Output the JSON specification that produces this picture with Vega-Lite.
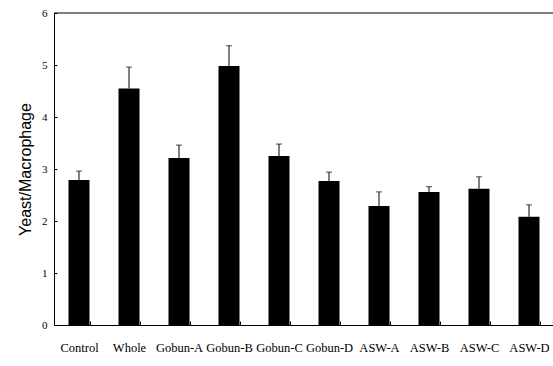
{
  "$schema": "https://vega.github.io/schema/vega-lite/v6.json",
  "width": 500,
  "height": 312,
  "autosize": "none",
  "padding": {"left": 54, "top": 13, "right": 0, "bottom": 41},
  "background": "white",
  "config": {"view": {"stroke": null}},
  "data": {"values": [
    {"group": "Control", "mean": 2.79, "upper": 2.96},
    {"group": "Whole", "mean": 4.55, "upper": 4.96},
    {"group": "Gobun-A", "mean": 3.21, "upper": 3.46},
    {"group": "Gobun-B", "mean": 4.98, "upper": 5.37},
    {"group": "Gobun-C", "mean": 3.25, "upper": 3.48},
    {"group": "Gobun-D", "mean": 2.77, "upper": 2.94},
    {"group": "ASW-A", "mean": 2.29, "upper": 2.56},
    {"group": "ASW-B", "mean": 2.56, "upper": 2.66},
    {"group": "ASW-C", "mean": 2.62, "upper": 2.85},
    {"group": "ASW-D", "mean": 2.08, "upper": 2.31}
  ]},
  "layer": [
    {
      "mark": {"type": "bar", "color": "black"},
      "encoding": {
        "x": {
          "field": "group", "type": "nominal", "sort": null,
          "scale": {"paddingInner": 0.58, "paddingOuter": 0.29},
          "axis": {
            "title": null, "labelAngle": 0, "labelFont": "Liberation Serif", "labelFontSize": 12.5,
            "labelColor": "black", "labelPadding": 20, "tickBand": "extent", "tickSize": -4,
            "tickColor": "black", "domainColor": "black", "domainWidth": 1
          }
        },
        "y": {
          "field": "mean", "type": "quantitative",
          "scale": {"domain": [0, 6], "nice": false},
          "axis": {
            "title": "Yeast/Macrophage", "titleFont": "Liberation Sans", "titleFontSize": 16,
            "titleFontWeight": "normal", "titleColor": "black", "titlePadding": 8,
            "values": [0, 1, 2, 3, 4, 5, 6], "labelFont": "Liberation Serif", "labelFontSize": 11,
            "labelColor": "black", "labelPadding": 10, "tickSize": -3, "tickColor": "black",
            "domainColor": "black", "grid": false
          }
        }
      }
    },
    {
      "mark": {"type": "rule", "color": "black", "strokeWidth": 1},
      "encoding": {
        "x": {"field": "group", "type": "nominal", "sort": null},
        "y": {"field": "mean", "type": "quantitative"},
        "y2": {"field": "upper"}
      }
    },
    {
      "mark": {"type": "tick", "color": "black", "thickness": 1, "size": 6},
      "encoding": {
        "x": {"field": "group", "type": "nominal", "sort": null},
        "y": {"field": "upper", "type": "quantitative"}
      }
    },
    {
      "data": {"values": [{"top": 6}]},
      "mark": {"type": "rule", "color": "black", "strokeWidth": 1},
      "encoding": {"y": {"field": "top", "type": "quantitative"}}
    }
  ]
}
